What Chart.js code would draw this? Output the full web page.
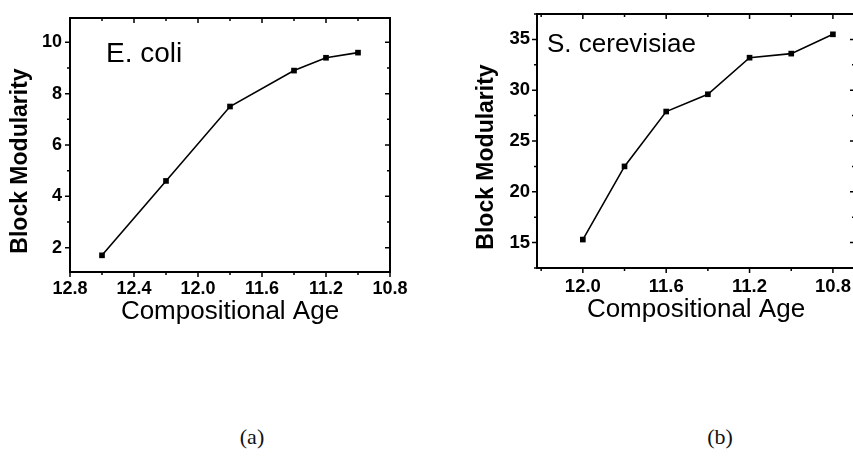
<!DOCTYPE html>
<html>
<head>
<meta charset="utf-8">
<script src="https://cdn.jsdelivr.net/npm/chart.js@4.4.1/dist/chart.umd.min.js"></script>
<style>
  html, body { margin: 0; padding: 0; background: #fff; overflow: hidden; }
  body { width: 853px; height: 467px; position: relative; }
  canvas { position: absolute; top: 0; }
  .tag { position: absolute; transform: translate(-50%, -50%); font-family: "Liberation Serif", serif; font-size: 22px; color: #111; }
</style>
</head>
<body>
<canvas id="chartA" width="430" height="340" style="left:0"></canvas>
<canvas id="chartB" width="440" height="340" style="left:430px"></canvas>
<div class="tag" style="left:252px;top:437px">(a)</div>
<div class="tag" style="left:720px;top:437px">(b)</div>
<script>
// panel (a): E. coli
const ageA = [12.6, 12.2, 11.8, 11.4, 11.2, 11.0];
const modA = [1.7, 4.6, 7.5, 8.9, 9.4, 9.6];
const xTicksA = [12.8, 12.4, 12.0, 11.6, 11.2, 10.8];
const yTicksA = [2, 4, 6, 8, 10];

// panel (b): S. cerevisiae
const ageB = [12.0, 11.8, 11.6, 11.4, 11.2, 11.0, 10.8];
const modB = [15.3, 22.5, 27.9, 29.6, 33.2, 33.6, 35.5];
const xTicksB = [12.0, 11.6, 11.2, 10.8];
const yTicksB = [15, 20, 25, 30, 35];

const xTitle = 'Compositional Age';
const yTitle = 'Block Modularity';

// tick marks at every half step, major ones on the labelled values
function marks(scale, step) {
  const half = step / 2;
  const out = [];
  const lo = Math.ceil(Math.min(scale.min, scale.max) / half - 1e-6);
  const hi = Math.floor(Math.max(scale.min, scale.max) / half + 1e-6);
  for (let i = lo; i <= hi; i++) {
    out.push({ px: scale.getPixelForValue(i * half), major: i % 2 === 0 });
  }
  return out;
}

// Origin-style box: outward ticks bottom/left, inward ticks top/right, plus texts
const frame = {
  id: 'frame',
  afterDraw(chart, args, o) {
    const { ctx, chartArea: a, scales: { x, y } } = chart;
    ctx.save();
    ctx.strokeStyle = '#000';
    ctx.lineWidth = 2;
    ctx.strokeRect(a.left, a.top, a.right - a.left, a.bottom - a.top);
    ctx.lineWidth = 1.5;
    ctx.beginPath();
    marks(x, o.xStep).forEach(m => {
      const len = m.major ? 5 : 3;
      ctx.moveTo(m.px, a.bottom); ctx.lineTo(m.px, a.bottom + len);
      ctx.moveTo(m.px, a.top); ctx.lineTo(m.px, a.top + len);
    });
    marks(y, o.yStep).forEach(m => {
      const len = m.major ? 5 : 3;
      ctx.moveTo(a.left, m.px); ctx.lineTo(a.left - len, m.px);
      ctx.moveTo(a.right, m.px); ctx.lineTo(a.right - len, m.px);
    });
    ctx.stroke();

    ctx.fillStyle = '#000';
    ctx.font = o.nameFont;
    ctx.textAlign = 'left';
    ctx.textBaseline = 'alphabetic';
    ctx.fillText(o.name, a.left + o.nameDx, a.top + o.nameDy);

    ctx.translate(o.yTitleX, (a.top + a.bottom) / 2 + o.yTitleDy);
    ctx.rotate(-Math.PI / 2);
    ctx.font = 'bold 23px "Liberation Sans", Arial, sans-serif';
    ctx.textAlign = 'center';
    ctx.textBaseline = 'middle';
    ctx.fillText(yTitle, 0, 0);
    ctx.restore();
  }
};

function makeChart(id, ages, mods, xTicks, yTicks, o) {
  const tickFont = { family: '"Liberation Sans", Arial, sans-serif', weight: 'bold', size: o.tickSize };
  return new Chart(document.getElementById(id), {
    type: 'line',
    data: {
      datasets: [{
        data: ages.map((a, i) => ({ x: a, y: mods[i] })),
        borderColor: '#000',
        backgroundColor: '#000',
        borderWidth: 1.6,
        pointStyle: 'rect',
        pointRadius: 4,
        pointBorderWidth: 0,
        tension: 0
      }]
    },
    options: {
      responsive: false,
      animation: false,
      layout: { padding: o.pad },
      plugins: {
        legend: { display: false },
        tooltip: { enabled: false },
        frame: o.frame
      },
      scales: {
        x: {
          type: 'linear',
          reverse: true,
          min: o.xMin,
          max: o.xMax,
          border: { display: false },
          grid: { display: false, drawTicks: false },
          afterBuildTicks(s) { s.ticks = xTicks.map(v => ({ value: v })); },
          ticks: {
            autoSkip: false, maxRotation: 0,
            color: '#000', font: tickFont, padding: o.xPad,
            callback: v => Number(v).toFixed(1)
          },
          title: {
            display: true, text: xTitle, color: '#000',
            font: { family: '"Liberation Sans", Arial, sans-serif', size: 26 },
            padding: { top: 0, bottom: o.xTitlePad }
          },
          afterFit(s) {
            s.height = o.xBox;
            s.paddingLeft = s.paddingRight = 0;
          }
        },
        y: {
          min: o.yMin,
          max: o.yMax,
          border: { display: false },
          grid: { display: false, drawTicks: false },
          afterBuildTicks(s) { s.ticks = yTicks.map(v => ({ value: v })); },
          ticks: {
            color: '#000', font: tickFont, padding: o.yPad
          },
          afterFit(s) {
            s.width = o.yBox;
            s.paddingTop = s.paddingBottom = 0;
          }
        }
      }
    },
    plugins: [frame]
  });
}

makeChart('chartA', ageA, modA, xTicksA, yTicksA, {
  pad: { left: 0, top: 18, right: 40, bottom: 0 },
  xBox: 68, yBox: 70,
  xMin: 10.8, xMax: 12.8, yMin: 1.05, yMax: 10.95,
  tickSize: 18, xPad: 6, yPad: 8, xTitlePad: 13,
  frame: {
    xStep: 0.4, yStep: 2, name: 'E. coli', nameFont: '28px "Liberation Sans", Arial, sans-serif',
    nameDx: 36, nameDy: 44, yTitleX: 20.5, yTitleDy: 16
  }
});

makeChart('chartB', ageB, modB, xTicksB, yTicksB, {
  pad: { left: 0, top: 14, right: 15, bottom: 0 },
  xBox: 72, yBox: 107,
  xMin: 10.694, xMax: 12.22, yMin: 12.5, yMax: 37.5,
  tickSize: 18.5, xPad: 8, yPad: 7, xTitlePad: 15,
  frame: {
    xStep: 0.4, yStep: 5, name: 'S. cerevisiae', nameFont: '26px "Liberation Sans", Arial, sans-serif',
    nameDx: 10, nameDy: 38, yTitleX: 57, yTitleDy: 16
  }
});
</script>
</body>
</html>
